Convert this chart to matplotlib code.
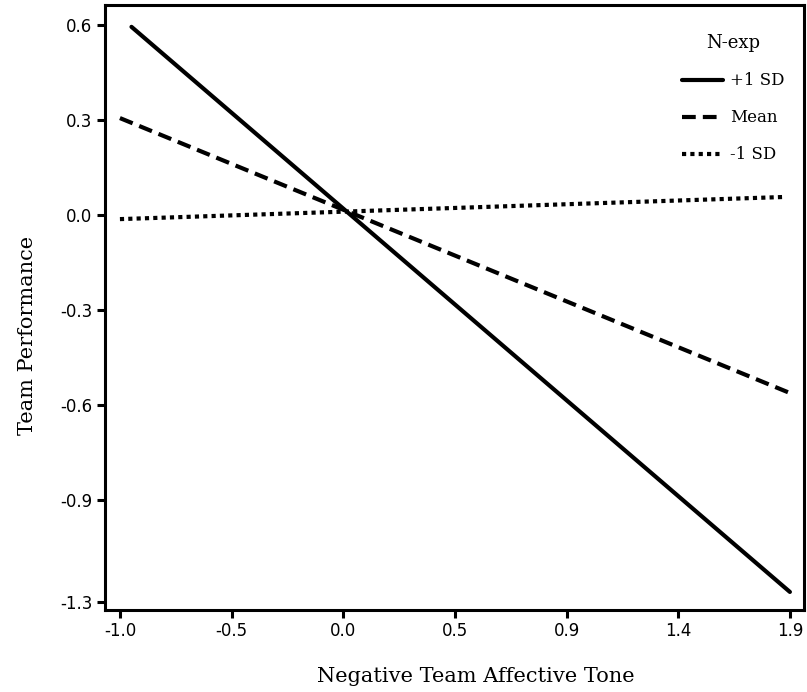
import numpy as np
import matplotlib.pyplot as plt
plt.switch_backend("agg")

# values
x_plus = [-0.95, 1.9]
y_plus = [0.594, -1.19]
x_mean = [-1.0, 1.9]
y_mean = [0.306, -0.562]
x_minus = [-1.0, 1.88]
y_minus = [-0.013, 0.057]

x_ticks = np.linspace(-1.0, 1.9, 7)
x_tick_labels = ["-1.0", "-0.5", "0.0", "0.5", "0.9", "1.4", "1.9"]
y_ticks = [0.6, 0.3, 0.0, -0.3, -0.6, -0.9, -1.222]
y_tick_labels = ["0.6", "0.3", "0.0", "-0.3", "-0.6", "-0.9", "-1.3"]

serif = "DejaVu Serif"

fig = plt.figure(figsize=(8.07, 6.92), dpi=100)
ax = fig.add_axes([0.130, 0.1185, 0.866, 0.8743])

ax.plot(x_plus, y_plus, color="black", lw=3, solid_capstyle="round", label="+1 SD")
ax.plot(x_mean, y_mean, color="black", lw=3, linestyle=(0, (3.3, 1.7)), label="Mean")
ax.plot(x_minus, y_minus, color="black", lw=3, linestyle=(0, (1, 1)), label="-1 SD")

ax.set_xlim(-1.065, 1.96)
ax.set_ylim(-1.247, 0.663)

ax.set_xticks(x_ticks)
ax.set_xticklabels(x_tick_labels)
ax.set_yticks(y_ticks)
ax.set_yticklabels(y_tick_labels)
ax.tick_params(direction="out", length=6, width=2.2, labelsize=12, pad=3)

for s in ax.spines.values():
    s.set_linewidth(2.2)

ax.set_xlabel("Negative Team Affective Tone", family=serif, fontsize=15)
ax.set_ylabel("Team Performance", family=serif, fontsize=15)
ax.xaxis.set_label_coords(0.531, -0.095)
ax.yaxis.set_label_coords(-0.097, 0.4545)

# legend nudged a few pixels right/down to sit like the original
leg = ax.legend(title="N-exp", loc="upper right", frameon=False,
                bbox_to_anchor=(1.006, 0.99),
                prop={"family": serif, "size": 12}, handlelength=2.45,
                handletextpad=0.42, labelspacing=1.2, borderaxespad=1.0)
leg.get_title().set_family(serif)
leg.get_title().set_fontsize(13)

plt.savefig("out.png")
